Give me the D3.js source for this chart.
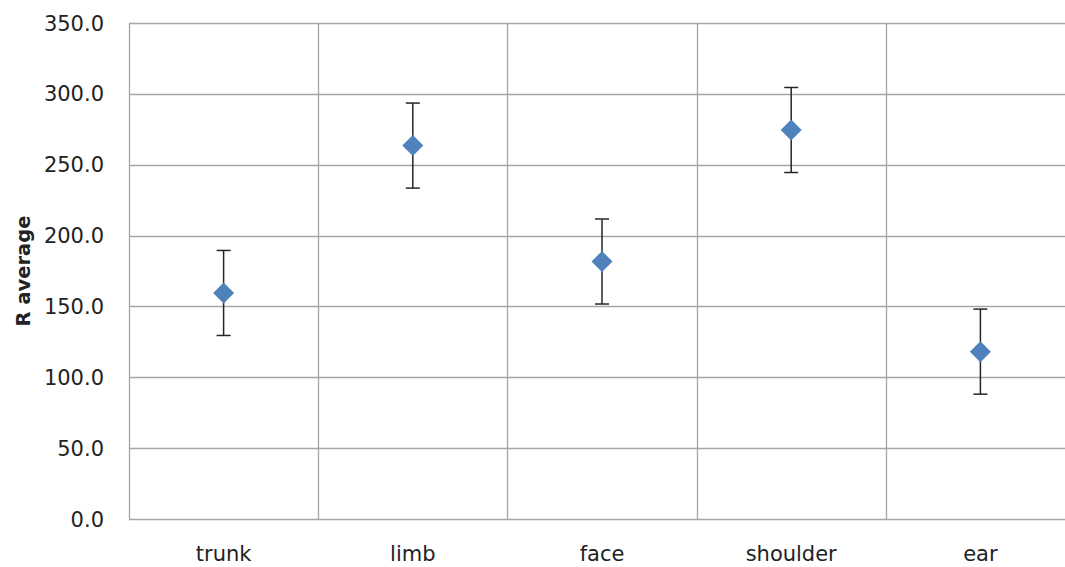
<!DOCTYPE html>
<html>
<head>
<meta charset="utf-8">
<script src="https://cdn.jsdelivr.net/npm/d3@7"></script>
<style>
  body { margin: 0; background: #fff; }
  text { font-family: "DejaVu Sans", sans-serif; fill: #222; }
</style>
</head>
<body>
<script>
(function() {

    const width = 1065;
    const height = 567;

    // data
    const categories = ["trunk", "limb", "face", "shoulder", "ear"];
    const averages = [159.5, 263.5, 181.7, 274.5, 118.1];
    const errors = [30, 30, 30, 30, 30];
    const yTicks = [0, 50, 100, 150, 200, 250, 300, 350];

    const margin = {left: 129, top: 23, bottom: 48};
    const plotRight = 1075; // last column runs past the window edge

    let svg = d3.select("body").append("svg")
        .attr("width", width)
        .attr("height", height);

    let x = d3.scaleBand()
        .domain(categories)
        .range([margin.left, plotRight]);

    let y = d3.scaleLinear()
        .domain([0, 350])
        .range([height - margin.bottom, margin.top]);

    // horizontal grid lines
    svg.append("g")
        .selectAll("line")
        .data(yTicks)
        .enter()
        .append("line")
        .attr("x1", margin.left)
        .attr("x2", plotRight)
        .attr("y1", d => Math.round(y(d)) + 0.5)
        .attr("y2", d => Math.round(y(d)) + 0.5)
        .style("stroke", "#a6a6a6")
        .style("stroke-width", 1.3);

    // vertical lines between categories (and the left axis)
    svg.append("g")
        .selectAll("line")
        .data(categories)
        .enter()
        .append("line")
        .attr("x1", d => Math.round(x(d)) + 0.5)
        .attr("x2", d => Math.round(x(d)) + 0.5)
        .attr("y1", y(350))
        .attr("y2", y(0))
        .style("stroke", "#a6a6a6")
        .style("stroke-width", 1.3);

    // y tick labels
    svg.append("g")
        .selectAll("text")
        .data(yTicks)
        .enter()
        .append("text")
        .attr("x", 104)
        .attr("y", d => y(d))
        .attr("dy", "0.36em")
        .attr("text-anchor", "end")
        .style("font-size", "21px")
        .text(d => d3.format(".1f")(d));

    // x labels
    svg.append("g")
        .selectAll("text")
        .data(categories)
        .enter()
        .append("text")
        .attr("x", d => x(d) + x.bandwidth() / 2)
        .attr("y", 561)
        .attr("text-anchor", "middle")
        .style("font-size", "21px")
        .text(d => d);

    // y title
    svg.append("text")
        .attr("transform", "translate(30," + ((y(0) + y(350)) / 2) + ") rotate(-90)")
        .attr("text-anchor", "middle")
        .style("font-size", "19.5px")
        .style("font-weight", "bold")
        .text("R average");

    let points = categories.map((c, i) => ({cat: c, v: averages[i], e: errors[i]}));
    let cx = d => x(d.cat) + x.bandwidth() / 2;

    // error bars
    let bars = svg.append("g")
        .selectAll("g")
        .data(points)
        .enter()
        .append("g")
        .style("stroke", "#262626")
        .style("stroke-width", 1.5);

    bars.append("line")
        .attr("x1", cx).attr("x2", cx)
        .attr("y1", d => y(d.v + d.e))
        .attr("y2", d => y(d.v - d.e));

    bars.append("line")
        .attr("x1", d => cx(d) - 7).attr("x2", d => cx(d) + 7)
        .attr("y1", d => y(d.v + d.e))
        .attr("y2", d => y(d.v + d.e));

    bars.append("line")
        .attr("x1", d => cx(d) - 7).attr("x2", d => cx(d) + 7)
        .attr("y1", d => y(d.v - d.e))
        .attr("y2", d => y(d.v - d.e));

    // diamond markers
    svg.append("g")
        .selectAll("path")
        .data(points)
        .enter()
        .append("path")
        .attr("transform", d => "translate(" + cx(d) + "," + y(d.v) + ")")
        .attr("d", "M0,-10.5L10.5,0L0,10.5L-10.5,0Z")
        .style("fill", "#4f81bd");

})();
</script>
</body>
</html>
